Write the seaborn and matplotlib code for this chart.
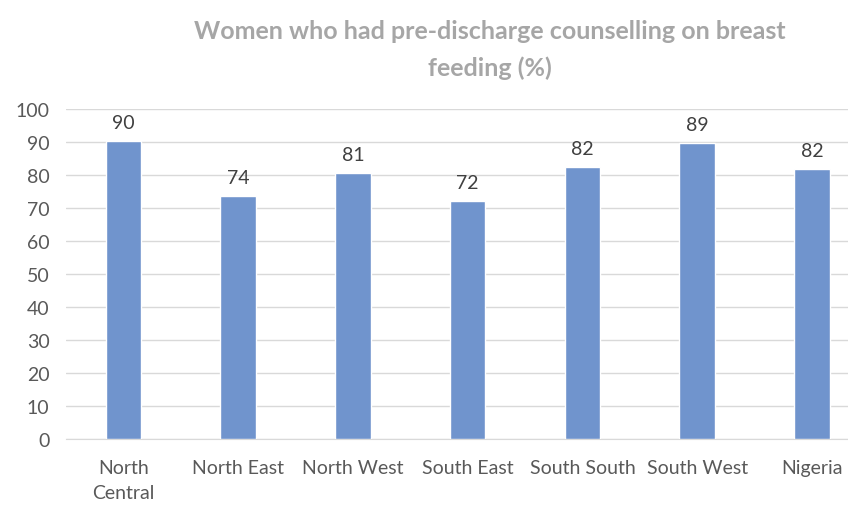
import matplotlib
matplotlib.use("Agg")
import matplotlib.pyplot as plt
import seaborn as sns
import pandas as pd

# Data
regions = ["North\nCentral", "North East", "North West", "South East",
           "South South", "South West", "Nigeria"]
values = [90.2, 73.7, 80.6, 72.0, 82.3, 89.6, 81.9]
labels = ["90", "74", "81", "72", "82", "89", "82"]

df = pd.DataFrame({"region": regions, "value": values})

sns.set_style("white")
plt.rcParams["font.family"] = ["Lato", "DejaVu Sans"]

fig = plt.figure(figsize=(8.48, 5.06), dpi=100)
# plot area runs slightly past the right edge, as in the reference
ax = fig.add_axes([0.078, 0.130, 0.947, 0.653])

sns.barplot(data=df, x="region", y="value", color="#7094CD", width=0.31,
            saturation=1, ax=ax, zorder=3)

# value labels above bars
for i, (v, t) in enumerate(zip(values, labels)):
    ax.text(i, v + 3, t, ha="center", va="bottom", fontsize=14, color="#404040")

ax.set_ylim(0, 100)
ax.set_yticks(range(0, 101, 10))
ax.yaxis.grid(True, color="#D9D9D9", linewidth=1, zorder=0)
ax.set_axisbelow(True)
for s in ["top", "right", "left"]:
    ax.spines[s].set_visible(False)
ax.spines["bottom"].set_color("#D9D9D9")
ax.tick_params(axis="both", length=0, labelsize=14, labelcolor="#595959")
ax.tick_params(axis="x", pad=14)
ax.tick_params(axis="y", pad=12)
for lab in ax.get_xticklabels():
    lab.set_linespacing(1.6)
ax.set_xlabel("")
ax.set_ylabel("")

fig.suptitle("Women who had pre-discharge counselling on breast\nfeeding (%)",
             x=0.578, y=0.96, fontsize=18, fontweight="bold", color="#A6A6A6",
             linespacing=1.65)

fig.savefig("out.png", dpi=100)
